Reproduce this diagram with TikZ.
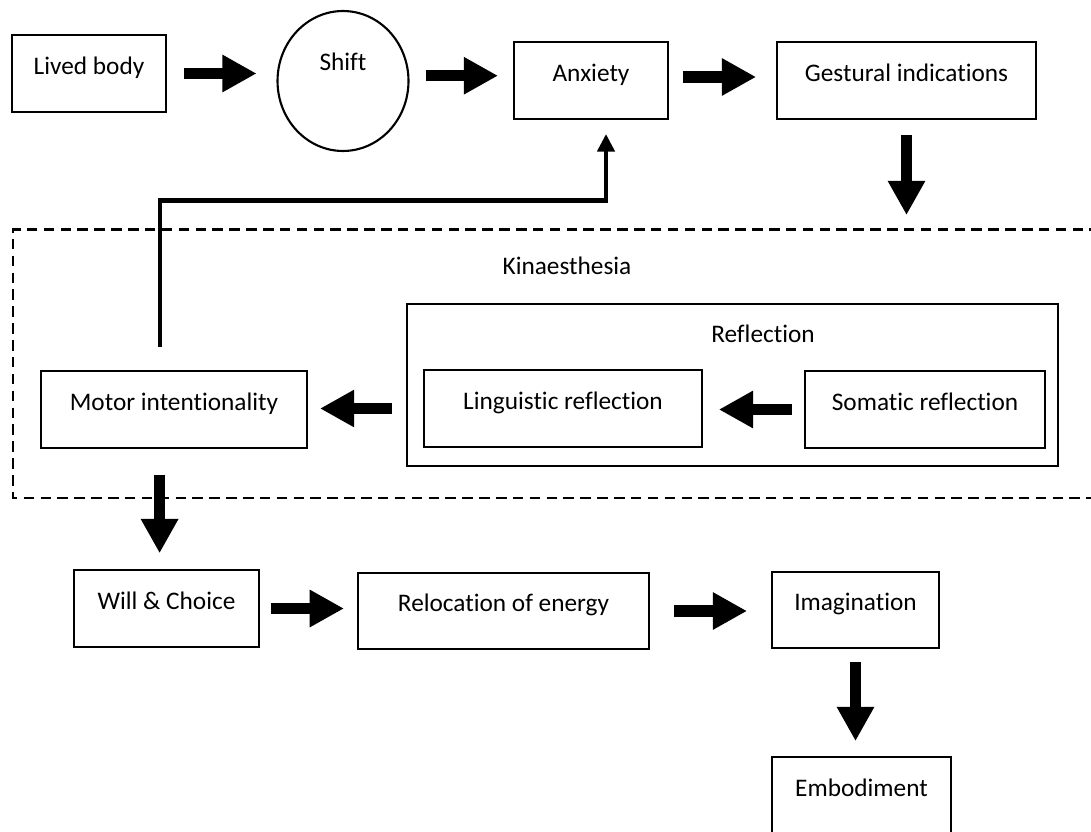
\documentclass[tikz,border=0pt]{standalone}
\usepackage{fontspec}
\setmainfont{Carlito}[Ligatures=NoCommon]
\usetikzlibrary{arrows.meta}
\usetikzlibrary{calc,positioning,shapes.geometric}

\begin{document}
\begin{tikzpicture}[x=0.02cm, y=-0.02cm,
    txt/.style={font=\fontsize{14.4}{17}\selectfont},
    box/.style={txt, draw, line width=1.2pt, inner xsep=0pt, inner ysep=0pt,
        text height=22.3pt, text depth=21.4pt},
    bigarrow/.style={line width=6.5pt, -{Triangle[length=19.5pt, width=20pt]}},
    backarrow/.style={line width=2.8pt, line join=miter, -{Triangle[length=10pt, width=9.6pt]}},
    kinline/.style={line width=1.4pt, dash pattern=on 6pt off 3.6pt}]

    \useasboundingbox (0,0) rectangle (1091,831);
    \clip (0,0) rectangle (1091,831);

    % obere Reihe
    \node[box, minimum width=3.08cm] (lived) at (89,73.5) {Lived body};
    \node[txt, draw, line width=1.2pt, ellipse, inner sep=0pt, minimum width=2.62cm, minimum height=2.8cm,
        text height=8pt, text depth=20.5pt] (shift) at (343,81) {Shift};
    \node[box, minimum width=3.08cm] (anxiety) at (591,80.5) {Anxiety};
    \node[box, minimum width=5.18cm] (gestural) at (906.5,80.5) {Gestural indications};

    % Kinaesthesie (gestrichelt)
    \coordinate (kintop) at (905,229.5);
    \draw[kinline] (1100,229.5) -- (13,229.5) -- (13,498) -- (1100,498);
    \node[txt, anchor=base] (kinlabel) at (567,274) {Kinaesthesia};

    % Reflexion
    \node[draw, line width=1.2pt, inner sep=0pt, minimum width=13.02cm, minimum height=3.24cm] (reflbox) at (732.5,385) {};
    \node[txt, anchor=base] (refltitle) at (763,342) {Reflection};
    \node[box, minimum width=5.32cm] (motor) at (174,409.5) {Motor intentionality};
    \node[box, minimum width=5.56cm] (linguistic) at (563,408.5) {Linguistic reflection};
    \node[box, minimum width=4.8cm] (somatic) at (925,409.5) {Somatic reflection};

    % untere Reihe
    \node[box, minimum width=3.7cm] (will) at (166.5,608.5) {Will \& Choice};
    \node[box, minimum width=5.82cm] (relocation) at (503.5,611) {Relocation of energy};
    \node[box, minimum width=3.34cm] (imagination) at (855.5,610) {Imagination};
    \node[box, minimum width=3.58cm] (embodiment) at (861.5,795.5) {Embodiment};

    % Pfeile
    \draw[bigarrow, shorten <=9.6pt, shorten >=11.3pt] (lived.east) -- (lived.east -| shift.west);
    \draw[bigarrow, shorten <=9.6pt, shorten >=8.5pt] ([yshift=3pt]shift.east) -- ([yshift=3pt]shift.east -| anxiety.west);
    \draw[bigarrow, shorten <=7.9pt, shorten >=11.3pt] ([yshift=2pt]anxiety.east) -- ([yshift=2pt]anxiety.east -| gestural.west);
    \draw[bigarrow, shorten <=8.5pt, shorten >=8.2pt] (gestural.south) -- (gestural.south |- kintop);
    \draw[bigarrow, shorten <=6.8pt, shorten >=9pt] (somatic.west) -- (somatic.west -| linguistic.east);
    \draw[bigarrow, shorten <=7.9pt, shorten >=6.8pt] (linguistic.west -| reflbox.west) -- (linguistic.west -| motor.east);
    \draw[bigarrow, shorten <=14.7pt, shorten >=9pt] ([xshift=-8.2pt]motor.south) -- ([xshift=-8.2pt]motor.south |- will.north);
    \draw[bigarrow, shorten <=6.2pt, shorten >=7.4pt] (will.east) -- (will.east -| relocation.west);
    \draw[bigarrow, shorten <=13.6pt, shorten >=13.6pt] (relocation.east) -- (relocation.east -| imagination.west);
    \draw[bigarrow, shorten <=7.4pt, shorten >=8.5pt] (imagination.south) -- (imagination.south |- embodiment.north);

    % Rueckkopplung
    \draw[backarrow] ($(motor.north)+(-14,-23)$) |- ($(anxiety.south)+(15,81)$) -- ($(anxiety.south)+(15,14)$);

\end{tikzpicture}
\end{document}
